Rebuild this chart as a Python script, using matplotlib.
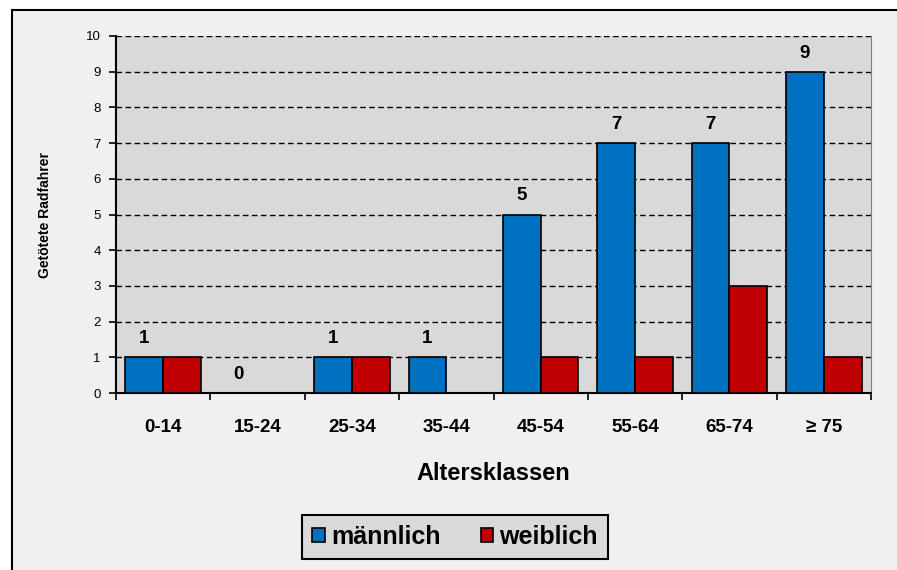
import numpy as np
import matplotlib
matplotlib.use("Agg")
import matplotlib.pyplot as plt
from matplotlib.patches import Rectangle

# data
klassen = ['0-14', '15-24', '25-34', '35-44', '45-54', '55-64', '65-74', '≥ 75']
maennlich = [1, 0, 1, 1, 5, 7, 7, 9]
weiblich = [1, 0, 1, 0, 1, 1, 3, 1]

plt.rcParams['font.family'] = ['Liberation Sans', 'DejaVu Sans']

W, H = 897, 570
fig = plt.figure(figsize=(W / 100, H / 100), dpi=100, facecolor='white')

# outer chart area (only left and top border visible)
fig.patches.append(Rectangle((12 / W, -0.1), 1.2, (H - 10) / H + 0.1,
                             transform=fig.transFigure, facecolor='#F0F0F0',
                             edgecolor='black', linewidth=1.5, zorder=-5))

ax = fig.add_axes([116 / W, 1 - 393 / H, (871 - 116) / W, (393 - 36) / H])
ax.set_facecolor('#D9D9D9')

x = np.arange(len(klassen))
bw = 0.4
b1 = ax.bar(x - bw / 2, maennlich, bw, color='#0070C0', edgecolor='black',
            linewidth=1.2, label='männlich', zorder=3)
b2 = ax.bar(x + bw / 2, weiblich, bw, color='#C00000', edgecolor='black',
            linewidth=1.2, label='weiblich', zorder=3)

for xi, v in zip(x, maennlich):
    ax.annotate(str(v), (xi - bw / 2, v), xytext=(0, 10), textcoords='offset pixels',
                ha='center', va='bottom', fontsize=13.5, fontweight='bold', zorder=4)

ax.set_xlim(-0.5, len(klassen) - 0.5)
ax.set_ylim(0, 10)
ax.set_yticks(range(0, 11))
ax.tick_params(axis='y', labelsize=9.5, length=5, width=1.2, direction='out', pad=6)
ax.grid(axis='y', color='black', linestyle=(0, (4, 2.5)), linewidth=1.0, zorder=1)

ax.set_xticks(x)
ax.set_xticklabels(klassen, fontsize=13.5, fontweight='bold')
ax.set_xticks(np.arange(-0.5, len(klassen)), minor=True)
ax.tick_params(axis='x', which='major', length=0, pad=19)
ax.tick_params(axis='x', which='minor', length=5, width=1.2, direction='out')

for s in ['left', 'bottom']:
    ax.spines[s].set_linewidth(1.5)
    ax.spines[s].set_color('black')
ax.spines['top'].set_visible(False)
ax.spines['right'].set_color('#808080')
ax.spines['right'].set_linewidth(0.8)

ax.set_ylabel('Getötete Radfahrer', fontsize=10, fontweight='bold')
ax.yaxis.set_label_coords(-0.085, 0.5)

fig.text(493.5 / W, 1 - 474 / H, 'Altersklassen', ha='center', va='center',
         fontsize=17, fontweight='bold')

leg = fig.legend(handles=[b1, b2], loc='center', bbox_to_anchor=(455 / W, 1 - 537 / H),
                 ncol=2, frameon=True, fancybox=False,
                 handlelength=0.5, handleheight=0.5, handletextpad=0.25,
                 columnspacing=1.6, borderpad=0.4, borderaxespad=0,
                 prop={'weight': 'bold', 'size': 18})
leg.get_frame().set_facecolor('#D9D9D9')
leg.get_frame().set_edgecolor('black')
leg.get_frame().set_linewidth(1.5)
leg.get_frame().set_alpha(1)

fig.savefig('out.png', dpi=100, facecolor=fig.get_facecolor())
